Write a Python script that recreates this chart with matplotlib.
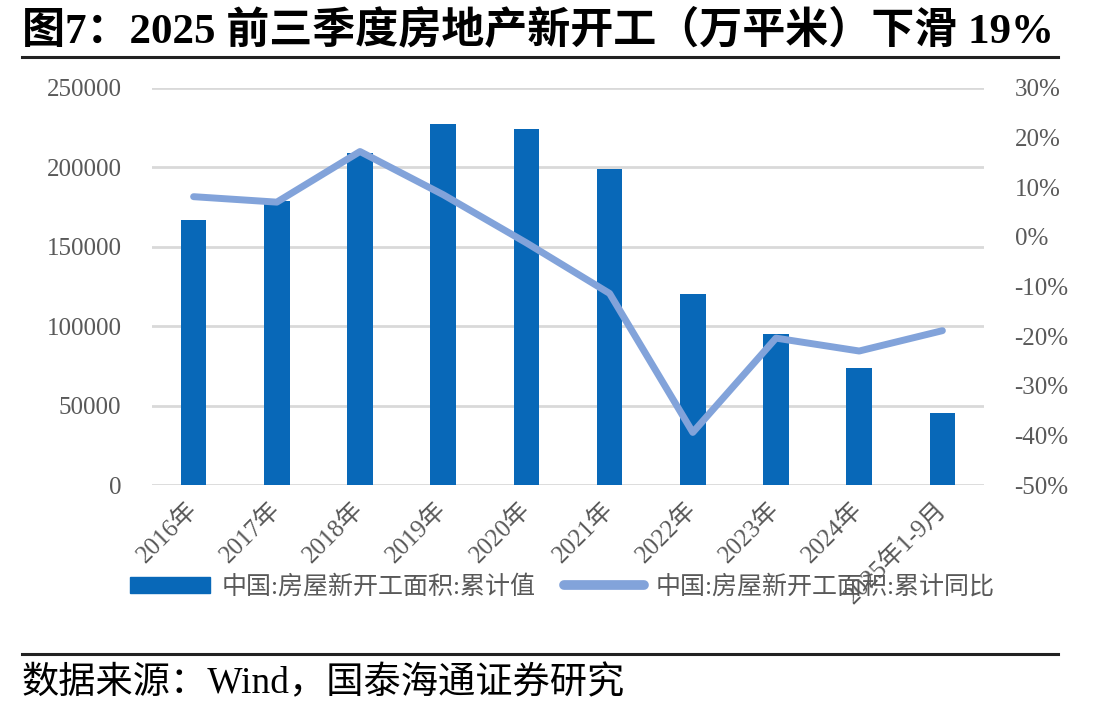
import matplotlib
matplotlib.use("Agg")
import matplotlib.pyplot as plt
from matplotlib.ticker import FuncFormatter, MultipleLocator
from matplotlib.lines import Line2D
from matplotlib.patches import Patch

categories = ["2016年", "2017年", "2018年", "2019年", "2020年", "2021年",
              "2022年", "2023年", "2024年", "2025年1-9月"]
area = [166928, 178654, 209342, 227154, 224433, 198895, 120587, 95376, 73893, 45399]
yoy = [8.1, 7.0, 17.2, 8.5, -1.2, -11.4, -39.4, -20.4, -23.0, -18.9]
bar_label = "中国:房屋新开工面积:累计值"
line_label = "中国:房屋新开工面积:累计同比"
title = "图7：2025 前三季度房地产新开工（万平米）下滑 19%"
source = "数据来源：Wind，国泰海通证券研究"

FAM = ["Liberation Serif", "Noto Sans CJK SC", "DejaVu Sans"]
plt.rcParams["font.family"] = FAM
TICK_C = "#595959"
BAR_C = "#0868b8"
LINE_C = "#82a3da"
GRID_C = "#d9d9d9"

fig = plt.figure(figsize=(11.08, 7.13), dpi=100)
ax = fig.add_axes([152/1108, 1-485/713, (984-152)/1108, (485-88)/713])
x = list(range(len(categories)))
ax.bar(x, area, width=0.31, color=BAR_C, zorder=2)
ax.set_xlim(-0.5, len(categories)-0.5)
ax.set_ylim(0, 250000)
ax.yaxis.set_major_locator(MultipleLocator(50000))
ax.yaxis.set_major_formatter(FuncFormatter(lambda v, p: f"{int(v)}"))
ax.grid(axis="y", color=GRID_C, lw=2, zorder=0)
for s in ax.spines.values():
    s.set_visible(False)
ax.tick_params(axis="both", length=0, labelsize=18, colors=TICK_C, pad=22)
ax.set_xticks(x)
ax.set_xticklabels(categories, rotation=45, ha="right", va="center",
                   rotation_mode="anchor")
ax.tick_params(axis="x", pad=15)

ax2 = ax.twinx()
ax2.plot(x, yoy, color=LINE_C, lw=5, solid_capstyle="round",
         solid_joinstyle="round", zorder=3)
ax2.set_ylim(-50, 30)
ax2.yaxis.set_major_locator(MultipleLocator(10))
ax2.yaxis.set_major_formatter(FuncFormatter(lambda v, p: f"{int(round(v))}%"))
for s in ax2.spines.values():
    s.set_visible(False)
ax2.tick_params(axis="y", length=0, labelsize=18, colors=TICK_C, pad=22)

handles = [Patch(color=BAR_C), Line2D([0], [0], color=LINE_C, lw=7, solid_capstyle="round")]
fig.legend(handles, [bar_label, line_label], loc="center left",
           bbox_to_anchor=(107/1108, 1-587/713), ncol=2, frameon=False,
           fontsize=18, labelcolor=TICK_C, handlelength=3.2, handleheight=0.6,
           columnspacing=1.1, handletextpad=0.5)

fig.text(22/1108, 1-30/713, title, fontsize=31, fontweight="bold",
         va="center", ha="left", color="black")
fig.add_artist(Line2D([22/1108, 1058/1108], [1-57/713, 1-57/713],
                      color="#222222", lw=2.2))
fig.add_artist(Line2D([22/1108, 1058/1108], [1-654/713, 1-654/713],
                      color="#222222", lw=2.2))
fig.text(22/1108, 1-684/713, source, fontsize=26.8, va="center", ha="left",
         color="black")

fig.savefig("out.png", dpi=100)
